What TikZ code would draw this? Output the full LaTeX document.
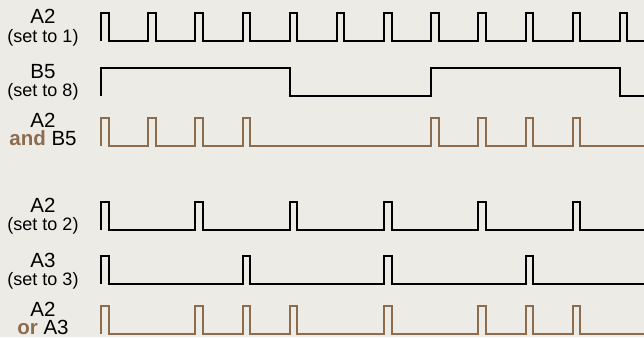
\documentclass[tikz,border=0pt]{standalone}
\usepackage{fontspec}
\setmainfont{Liberation Sans}
\definecolor{paper}{RGB}{236,235,230}
\definecolor{logicbrown}{RGB}{140,108,76}
\newcommand{\setnote}[1]{{\fontsize{18}{18}\selectfont #1}}

\begin{document}
\begin{tikzpicture}[x=1pt,y=-1pt,
        wave/.style={line width=2pt, line join=miter},
        result/.style={wave, draw=logicbrown},
        sig/.style={anchor=base, inner sep=0pt, align=center, font=\fontsize{20.5}{18}\selectfont}]
    \def\per{47.18}\def\pw{7.5}\def\ph{28}
    \fill[paper] (0,0) rectangle (644,337);
    \useasboundingbox (0,0) rectangle (644,337);
    % labels
    \node[sig] (a2one) at (43,42) {A2\\\setnote{(set to 1)}};
    \node[sig] (b5) at (43,96.5) {B5\\\setnote{(set to 8)}};
    \node[sig] (a2and) at (43,145.5) {A2\\\textcolor{logicbrown}{\bfseries and} B5};
    \node[sig] (a2two) at (43,230.5) {A2\\\setnote{(set to 2)}};
    \node[sig] (a3) at (43,285) {A3\\\setnote{(set to 3)}};
    \node[sig] (a2or) at (43,334) {A2\\\textcolor{logicbrown}{\bfseries or} A3};
    % A2, set to 1
    \draw[wave] (101,41) \foreach \k in {0,...,11} {-- ({101+\per*\k},41) -- ++(0,-\ph) -- ++(\pw,0) -- ++(0,\ph)} -- (644,41);
    % B5, set to 8
    \draw[wave] (101,95.5) -- (101,68) -- ({101+4*\per},68) -- ({101+4*\per},95.5)
        -- ({101+7*\per},95.5) -- ({101+7*\per},68) -- ({101+11*\per},68) -- ({101+11*\per},95.5) -- (644,95.5);
    % A2 and B5
    \draw[result] (101,146) \foreach \k in {0,1,2,3,7,8,9,10} {-- ({101+\per*\k},146) -- ++(0,-\ph) -- ++(\pw,0) -- ++(0,\ph)} -- (644,146);
    % A2, set to 2
    \draw[wave] (101,229.5) \foreach \k in {0,2,...,10} {-- ({101+\per*\k},229.5) -- ++(0,-27.5) -- ++(\pw,0) -- ++(0,27.5)} -- (644,229.5);
    % A3, set to 3
    \draw[wave] (101,283.5) \foreach \k in {0,3,...,9} {-- ({101+\per*\k},283.5) -- ++(0,-27.5) -- ++(\pw,0) -- ++(0,27.5)} -- (644,283.5);
    % A2 or A3
    \draw[result] (101,334) \foreach \k in {0,2,3,4,6,8,9,10} {-- ({101+\per*\k},334) -- ++(0,-\ph) -- ++(\pw,0) -- ++(0,\ph)} -- (644,334);
\end{tikzpicture}
\end{document}
